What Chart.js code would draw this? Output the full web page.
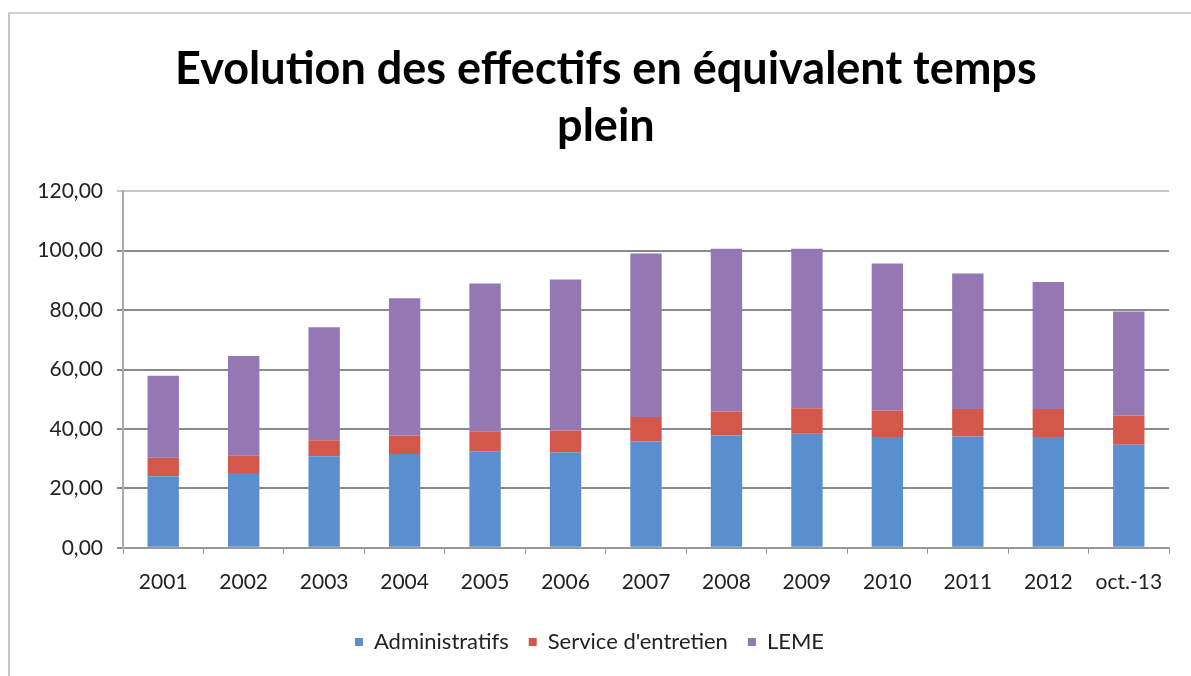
<!DOCTYPE html>
<html>
<head>
<meta charset="utf-8">
<script src="https://cdn.jsdelivr.net/npm/chart.js@4"></script>
<style>
  body { margin: 0; background: #fff; }
  #box { position: absolute; left: 8px; top: 12px; width: 1183px; height: 664px; border-left: 2px solid #c8c8c8; border-top: 2px solid #d0d0d0; }
</style>
</head>
<body>
<div id="box"><canvas id="effectifsChart" width="1181" height="662"></canvas></div>
<script>
const years = ['2001', '2002', '2003', '2004', '2005', '2006', '2007', '2008', '2009', '2010', '2011', '2012', 'oct.-13'];
const administratifs = [24.1, 25.2, 30.8, 31.6, 32.5, 32.2, 35.8, 37.8, 38.4, 37.3, 37.5, 37.3, 34.7];
const serviceEntretien = [6.2, 5.8, 5.4, 6.2, 6.7, 7.3, 8.2, 8.1, 8.6, 8.9, 9.2, 9.4, 9.8];
const leme = [27.6, 33.6, 38.0, 46.2, 49.8, 50.8, 55.1, 54.8, 53.7, 49.5, 45.6, 42.8, 35.0];

const ctx = document.getElementById('effectifsChart').getContext('2d');

// leading spaces nudge the title centre to the right, like the original
const pad = '   ';

new Chart(ctx, {
  type: 'bar',
  data: {
    labels: years,
    datasets: [
      { label: 'Administratifs', data: administratifs, backgroundColor: '#5b8ecf' },
      { label: "Service d'entretien", data: serviceEntretien, backgroundColor: '#d4574b' },
      { label: 'LEME', data: leme, backgroundColor: '#9378b4' }
    ]
  },
  options: {
    responsive: false,
    animation: false,
    datasets: {
      bar: { categoryPercentage: 1, barPercentage: 0.39 }
    },
    layout: {
      padding: { left: 0, right: 22, top: 27, bottom: 13 }
    },
    plugins: {
      title: {
        display: true,
        text: [pad + 'Evolution des effectifs en équivalent temps', pad + 'plein'],
        color: '#000',
        font: { family: 'Lato', size: 45, weight: 'bold', lineHeight: 1.27 },
        padding: { top: 0, bottom: 36 }
      },
      legend: {
        position: 'bottom',
        labels: {
          boxWidth: 8,
          boxHeight: 8,
          padding: 20,
          color: '#222',
          font: { family: 'Lato', size: 22 }
        }
      },
      tooltip: { enabled: false }
    },
    scales: {
      x: {
        stacked: true,
        grid: { offset: true, drawOnChartArea: false, color: '#999', tickLength: 6 },
        border: { color: '#999', width: 2 },
        ticks: { color: '#222', font: { family: 'Lato', size: 21 }, padding: 16 }
      },
      y: {
        stacked: true,
        min: 0,
        max: 120,
        afterFit: scale => { scale.width = 113; },
        ticks: {
          stepSize: 20,
          color: '#222',
          padding: 14,
          font: { family: 'Lato', size: 21 },
          callback: v => v.toFixed(2).replace('.', ',')
        },
        grid: {
          color: c => (c.tick && c.tick.value === 120 ? '#c8c8c8' : '#8a8a8a'),
          lineWidth: 2,
          tickLength: 6
        },
        border: { color: '#aaa', width: 2 }
      }
    }
  }
});
</script>
</body>
</html>
